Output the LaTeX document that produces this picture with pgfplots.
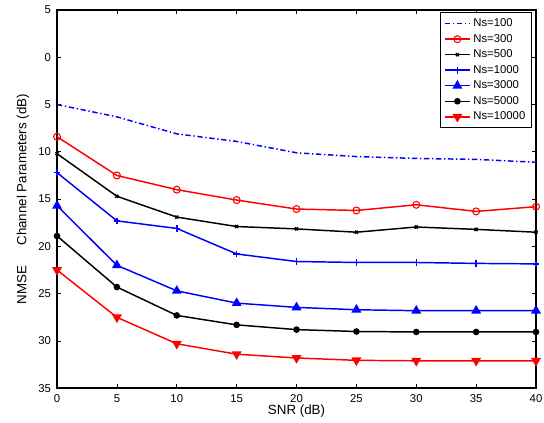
\documentclass[border=0pt]{standalone}
\usepackage{fontspec}
\setmainfont{Liberation Sans}
\usepackage{pgfplots}
\pgfplotsset{compat=1.18}
\begin{document}
\begin{tikzpicture}
\begin{axis}[
  scale only axis, width=359pt, height=283.5pt,
  xmin=0, xmax=40, ymin=-35, ymax=5,
  xtick={0,5,...,40}, ytick={-35,-30,...,5},
  yticklabels={35,30,25,20,15,10,5,0,5},
  /pgf/number format/assume math mode=true,
  tick align=inside, tick pos=both,
  major tick length=3pt,
  tick style={black, line width=0.6pt},
  axis line style={line width=1.2pt},
  ticklabel style={font=\fontsize{8.5}{9.5}\selectfont},
  xticklabel style={yshift=-1pt},
  yticklabel style={xshift=-1pt},
  xlabel={SNR (dB)}, ylabel={NMSE\quad\enspace Channel Parameters (dB)},
  label style={font=\fontsize{10}{11}\selectfont},
  xlabel style={yshift=5pt},
  ylabel style={yshift=0pt},
  legend cell align=left,
  legend style={at={(rel axis cs:1,1)}, anchor=north east, xshift=-3pt, yshift=-1.5pt,
    draw=black, line width=1pt, font=\fontsize{8.5}{9.5}\selectfont,
    row sep=0.2pt, inner sep=2.5pt},
  legend image code/.code={\draw[mark repeat=2,mark phase=2,#1] plot coordinates {(0cm,0cm) (0.33cm,0cm) (0.66cm,0cm)};},
]
\addplot[blue, line width=1.1pt, dash pattern=on 4pt off 2pt on 1pt off 2pt] coordinates {
(0,-5.0) (5,-6.3) (10,-8.1) (15,-8.9) (20,-10.1) (25,-10.5) (30,-10.7) (35,-10.8) (40,-11.1)};
\addlegendentry{Ns=100}
\addplot[red, line width=1.1pt, mark=o, mark size=2.6pt, mark options={line width=0.8pt}] coordinates {
(0,-8.4) (5,-12.5) (10,-14.0) (15,-15.1) (20,-16.05) (25,-16.2) (30,-15.6) (35,-16.3) (40,-15.8)};
\addlegendentry{Ns=300}
\addplot[black, line width=1.1pt, mark=x, mark size=1.6pt] coordinates {
(0,-10.2) (5,-14.7) (10,-16.9) (15,-17.9) (20,-18.15) (25,-18.5) (30,-17.95) (35,-18.2) (40,-18.5)};
\addlegendentry{Ns=500}
\addplot[blue, line width=1.1pt, mark=+, mark size=2.5pt] coordinates {
(0,-12.2) (5,-17.3) (10,-18.1) (15,-20.8) (20,-21.6) (25,-21.7) (30,-21.7) (35,-21.8) (40,-21.85)};
\addlegendentry{Ns=1000}
\addplot[blue, line width=1.1pt, mark=triangle*, mark size=3.2pt] coordinates {
(0,-15.7) (5,-22.0) (10,-24.7) (15,-26.0) (20,-26.45) (25,-26.7) (30,-26.8) (35,-26.8) (40,-26.8)};
\addlegendentry{Ns=3000}
\addplot[black, line width=1.1pt, mark=*, mark size=1.9pt] coordinates {
(0,-18.9) (5,-24.3) (10,-27.3) (15,-28.3) (20,-28.8) (25,-29.0) (30,-29.05) (35,-29.05) (40,-29.05)};
\addlegendentry{Ns=5000}
\addplot[red, line width=1.1pt, mark=triangle*, mark size=3.2pt, mark options={rotate=180}] coordinates {
(0,-22.5) (5,-27.5) (10,-30.3) (15,-31.4) (20,-31.8) (25,-32.05) (30,-32.1) (35,-32.1) (40,-32.1)};
\addlegendentry{Ns=10000}
\end{axis}
\pgfresetboundingbox
\path (current axis.south west) ++(-42.75pt,-25.5pt) coordinate (bbA);
\path (current axis.north east) ++(6pt,7.5pt) coordinate (bbB);
\path[use as bounding box] (bbA) rectangle (bbB);
\end{tikzpicture}
\end{document}
